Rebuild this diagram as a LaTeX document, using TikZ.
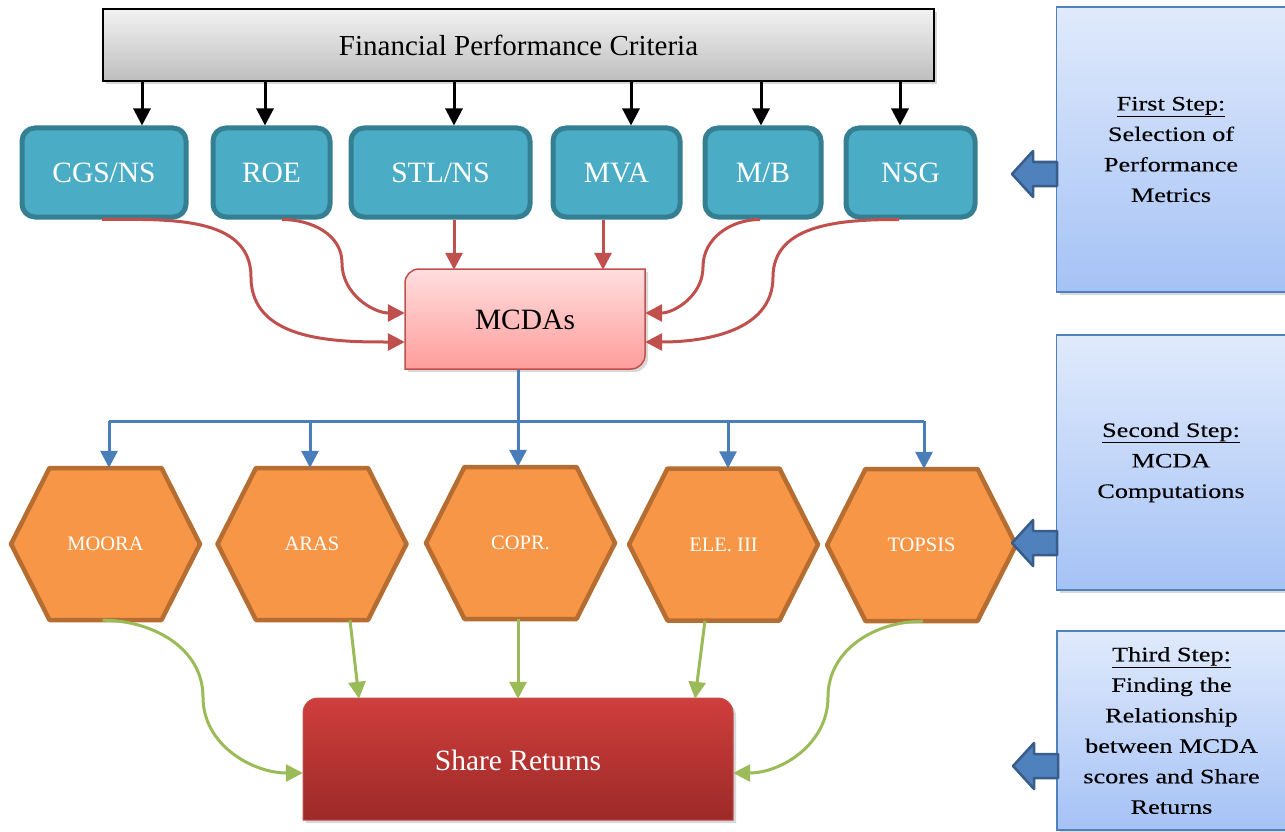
\documentclass[tikz,border=0pt]{standalone}
\usepackage{fontspec}
\setmainfont{Liberation Serif}
\newfontfamily\widefont[FakeStretch=1.28,FakeBold=0.2]{Liberation Serif}
\usetikzlibrary{arrows.meta,shadows}
\definecolor{grayTop}{HTML}{F2F2F2}
\definecolor{grayBot}{HTML}{BEBEBE}
\definecolor{tealFill}{HTML}{4BACC6}
\definecolor{tealLine}{HTML}{357F93}
\definecolor{pinkTop}{HTML}{FFDEDE}
\definecolor{pinkBot}{HTML}{FF9D9B}
\definecolor{redLine}{HTML}{C0504D}
\definecolor{bluLine}{HTML}{4A7EBB}
\definecolor{orFill}{HTML}{F79646}
\definecolor{orLine}{HTML}{B66D31}
\definecolor{grnLine}{HTML}{9BBB59}
\definecolor{shareTop}{HTML}{CF3E3C}
\definecolor{shareBot}{HTML}{9C2A28}
\definecolor{stepTop}{HTML}{E0EAFC}
\definecolor{stepBot}{HTML}{A5C2F5}
\definecolor{stepLine}{HTML}{4F81BD}
\definecolor{barFill}{HTML}{4F81BD}
\definecolor{barLine}{HTML}{385D8A}
\newcommand\hexshape[2]{\path[hexsty] (#1-94.5,#2) -- (#1-56,#2+76) -- (#1+56,#2+76) -- (#1+94.5,#2) -- (#1+56,#2-76) -- (#1-56,#2-76) -- cycle;}
\begin{document}
\begin{tikzpicture}[x=1pt,y=1pt,
  bigfont/.style={font=\fontsize{29.5}{33}\selectfont},
  shad/.style={drop shadow={opacity=0.3,shadow xshift=3pt,shadow yshift=-3pt}},
  topbox/.style={draw=black,line width=2.5pt,top color=grayTop,bottom color=grayBot,minimum width=831pt,minimum height=72pt,font=\fontsize{29}{33}\selectfont,shad},
  tealbox/.style={draw=tealLine,line width=5pt,fill=tealFill,rounded corners=13pt,text=white,bigfont,minimum height=89pt},
  hexsty/.style={draw=orLine,line width=4.5pt,fill=orFill,line join=round},
  hexnode/.style={minimum width=189pt,minimum height=152pt,text=white,font=\fontsize{20.5}{24}\selectfont},
  stepbox/.style={draw=stepLine,line width=1.5pt,top color=stepTop,bottom color=stepBot,minimum width=229pt,align=center,font=\widefont\fontsize{20.5}{30.5}\selectfont,shad},
  tip/.style={-{Triangle[length=17pt,width=17pt]}},
  blkarr/.style={draw=black,line width=3pt,tip},
  redarr/.style={draw=redLine,line width=3pt,tip},
  bluline/.style={draw=bluLine,line width=3pt},
  bluarr/.style={draw=bluLine,line width=3pt,tip},
  grnarr/.style={draw=grnLine,line width=3pt,tip},
  blockarr/.style={draw=barLine,fill=barFill,line width=2.5pt,line join=round}
]
\useasboundingbox (0,0) rectangle (1285,-832);
\fill[white] (0,0) rectangle (1285,-832);

% ---- shapes drawn directly ----
\path[draw=redLine,line width=1.5pt,top color=pinkTop,bottom color=pinkBot,shad]
  (405,-369) -- (405,-283) .. controls (405,-275.3) and (411.3,-269) .. (419,-269) -- (645,-269) -- (645,-355) .. controls (645,-362.7) and (638.7,-369) .. (631,-369) -- cycle;
\path[draw=redLine,line width=1pt,top color=shareTop,bottom color=shareBot,shad]
  (303,-820) -- (303,-713) .. controls (303,-704.7) and (309.7,-698) .. (318,-698) -- (718,-698) .. controls (726.3,-698) and (733,-704.7) .. (733,-713) -- (733,-820) -- cycle;
\hexshape{105.5}{-544}
\hexshape{312}{-544}
\hexshape{520.5}{-543}
\hexshape{723.5}{-544.5}
\hexshape{921.5}{-545}

% ---- nodes ----
\node[topbox] (fpc) at (518.5,-45) {Financial Performance Criteria};
\node[tealbox,minimum width=164pt] (cgs) at (104,-172.5) {CGS/NS};
\node[tealbox,minimum width=117pt] (roe) at (271.5,-172.5) {ROE};
\node[tealbox,minimum width=179pt] (stl) at (440.5,-172.5) {STL/NS};
\node[tealbox,minimum width=127pt] (mva) at (616.5,-172.5) {MVA};
\node[tealbox,minimum width=116pt] (mb) at (763,-172.5) {M/B};
\node[tealbox,minimum width=129pt] (nsg) at (910.5,-172.5) {NSG};
\node[minimum width=240pt,minimum height=100pt,bigfont] (mcda) at (525,-320) {MCDAs};
\node[hexnode] (moora) at (105.5,-544) {MOORA};
\node[hexnode] (aras) at (312,-544) {ARAS};
\node[hexnode] (copr) at (520.5,-543) {COPR.};
\node[hexnode] (ele) at (723.5,-544.5) {ELE. III};
\node[hexnode] (topsis) at (921.5,-545) {TOPSIS};
\node[minimum width=430pt,minimum height=122pt,bigfont,text=white] (share) at (518,-760) {Share Returns};

\node[stepbox,minimum height=285pt] (s1) at (1171,-149.5) {\underline{First Step:}\\Selection of\\Performance\\Metrics};
\node[stepbox,minimum height=255pt] (s2) at (1171,-462.5) {\underline{Second Step:}\\MCDA\\Computations};
\node[stepbox,minimum height=199pt] (s3) at (1171.5,-730.5) {\underline{Third Step:}\\Finding the\\Relationship\\between MCDA\\scores and Share\\Returns};

% ---- block arrows on the step boxes ----
\coordinate (t1) at (1012,-174);
\coordinate (t2) at (1012,-543);
\coordinate (t3) at (1013,-766);
\foreach \t in {t1,t2,t3}
  \path[blockarr] (\t) -- ++(21,23) -- ++(0,-11) -- ++(24,0) -- ++(0,-24) -- ++(-24,0) -- ++(0,-11) -- cycle;

% ---- connectors ----
\foreach \n/\dx in {cgs/38,roe/-6.5,stl/13.5,mva/14.5,mb/-2,nsg/-10.5}
  \draw[blkarr] ([xshift=\dx pt]\n.north |- fpc.south) -- ([xshift=\dx pt]\n.north);

\draw[redarr] ([xshift=13.5pt]stl.south) -- ([xshift=13.5pt]stl.south |- mcda.north);
\draw[redarr] ([xshift=-13.5pt]mva.south) -- ([xshift=-13.5pt]mva.south |- mcda.north);
\draw[redarr] ([xshift=-2pt]cgs.south) to[out=0,in=90] (251,-277) to[out=-90,in=180] ([yshift=-22pt]mcda.west);
\draw[redarr] ([xshift=10.5pt]roe.south) to[out=0,in=90] (342,-263) to[out=-90,in=180] ([yshift=7pt]mcda.west);
\draw[redarr] ([xshift=-3pt]mb.south) to[out=180,in=90] (703,-267) to[out=-90,in=0] ([yshift=7pt]mcda.east);
\draw[redarr] ([xshift=-11.5pt]nsg.south) to[out=180,in=90] (773,-277) to[out=-90,in=0] ([yshift=-22pt]mcda.east);

\draw[bluline] ([xshift=-7pt]mcda.south) -- ++(0,-51) coordinate (bus);
\draw[bluline] ([xshift=3.5pt]moora.north |- bus) -- ([xshift=2.5pt]topsis.north |- bus);
\foreach \n/\dx in {moora/3.5,aras/-2,copr/-2.5,ele/4.5,topsis/2.5}
  \draw[bluarr] ([xshift=\dx pt]\n.north |- bus) -- ([xshift=\dx pt]\n.north);

\draw[grnarr] ([xshift=-3pt]moora.south) to[out=0,in=90] (203,-697) to[out=-90,in=180] ([yshift=-13pt]share.west);
\draw[grnarr] ([xshift=38pt]aras.south) -- ([xshift=-159pt]share.north);
\draw[grnarr] ([xshift=-2.5pt]copr.south) -- ([xshift=-2.5pt]copr.south |- share.north);
\draw[grnarr] ([xshift=-18.5pt]ele.south) -- ([xshift=177pt]share.north);
\draw[grnarr] ([xshift=1.5pt]topsis.south) to[out=180,in=90] (828,-697) to[out=-90,in=0] ([yshift=-13pt]share.east);
\end{tikzpicture}
\end{document}
